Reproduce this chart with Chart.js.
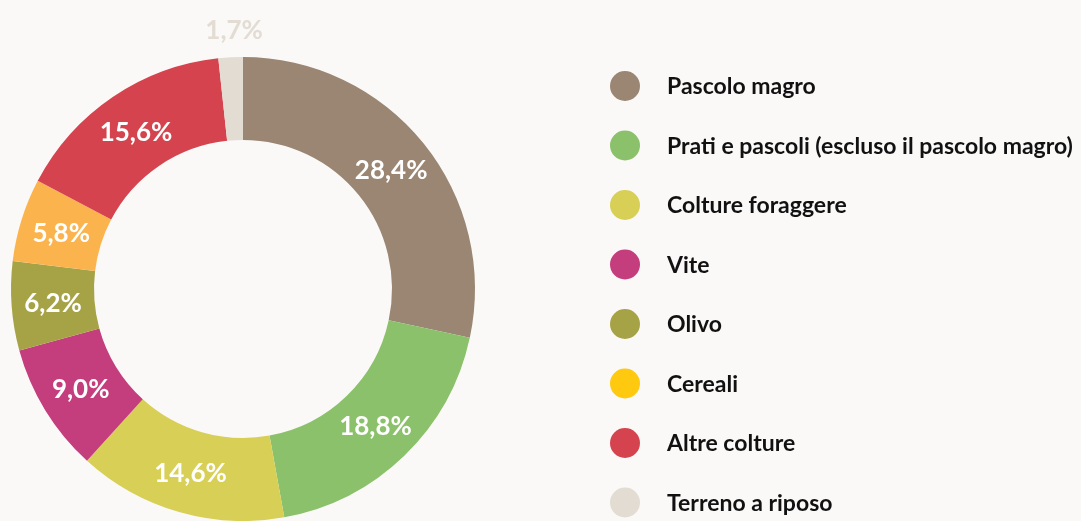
<!DOCTYPE html>
<html><head><meta charset="utf-8">
<script src="https://cdn.jsdelivr.net/npm/chart.js@4.4.1/dist/chart.umd.min.js"></script>
<style>html,body{margin:0;padding:0;background:#FAF9F8;overflow:hidden}</style>
</head><body>
<canvas id="c" width="1081" height="521"></canvas>
<script>
const categories = ['Pascolo magro','Prati e pascoli (escluso il pascolo magro)','Colture foraggere','Vite','Olivo','Cereali','Altre colture','Terreno a riposo'];
const values = [28.4, 18.8, 14.6, 9.0, 6.2, 5.8, 15.6, 1.7];
const sliceColors = ['#9A8672','#8BC16A','#D8CF56','#C43D7C','#A6A347','#FBB44D','#D5444E','#E2DCD3'];
const legendColors = ['#9A8672','#8BC16A','#D8CF56','#C43D7C','#A6A347','#FEC90F','#D5444E','#E2DCD3'];

const fmt = v => v.toFixed(1).replace('.', ',') + '%';

const labelPlugin = {
  id: 'sliceLabels',
  afterDatasetsDraw(chart) {
    const ctx = chart.ctx;
    const meta = chart.getDatasetMeta(0);
    ctx.save();
    ctx.textAlign = 'center';
    ctx.textBaseline = 'middle';
    ctx.font = 'bold 26px Lato';
    meta.data.forEach((arc, i) => {
      const v = chart.data.datasets[0].data[i];
      let x, y;
      if (v < 3) {
        const p = arc.getProps(['x','y','startAngle','endAngle','outerRadius'], true);
        const a = (p.startAngle + p.endAngle) / 2;
        const r = p.outerRadius + 28;
        x = p.x + Math.cos(a) * r + 5; y = p.y + Math.sin(a) * r;
        ctx.fillStyle = sliceColors[i];
      } else {
        const pos = arc.tooltipPosition(true);
        x = pos.x; y = pos.y;
        ctx.fillStyle = '#FFFFFF';
      }
      ctx.fillText(fmt(v), x, y + 1);
    });
    ctx.restore();
  }
};

const legendPlugin = {
  id: 'sideLegend',
  afterDraw(chart) {
    const ctx = chart.ctx;
    ctx.save();
    ctx.textBaseline = 'middle';
    ctx.textAlign = 'left';
    ctx.font = 'bold 23px Lato';
    chart.data.labels.forEach((lab, i) => {
      const cy = 86 + i * 59.5;
      ctx.beginPath();
      ctx.arc(625, cy, 15, 0, Math.PI * 2);
      ctx.fillStyle = legendColors[i];
      ctx.fill();
      ctx.fillStyle = '#111111';
      ctx.fillText(lab, 667, cy + 1);
    });
    ctx.restore();
  }
};

new Chart(document.getElementById('c'), {
  type: 'doughnut',
  data: {
    labels: categories,
    datasets: [{ data: values, backgroundColor: sliceColors, borderWidth: 0 }]
  },
  options: {
    responsive: false,
    animation: false,
    cutout: 149,
    rotation: 0,
    layout: { padding: { left: 10, right: 605, top: 57, bottom: 0 } },
    plugins: { legend: { display: false }, tooltip: { enabled: false } }
  },
  plugins: [labelPlugin, legendPlugin]
});
</script>
</body></html>
